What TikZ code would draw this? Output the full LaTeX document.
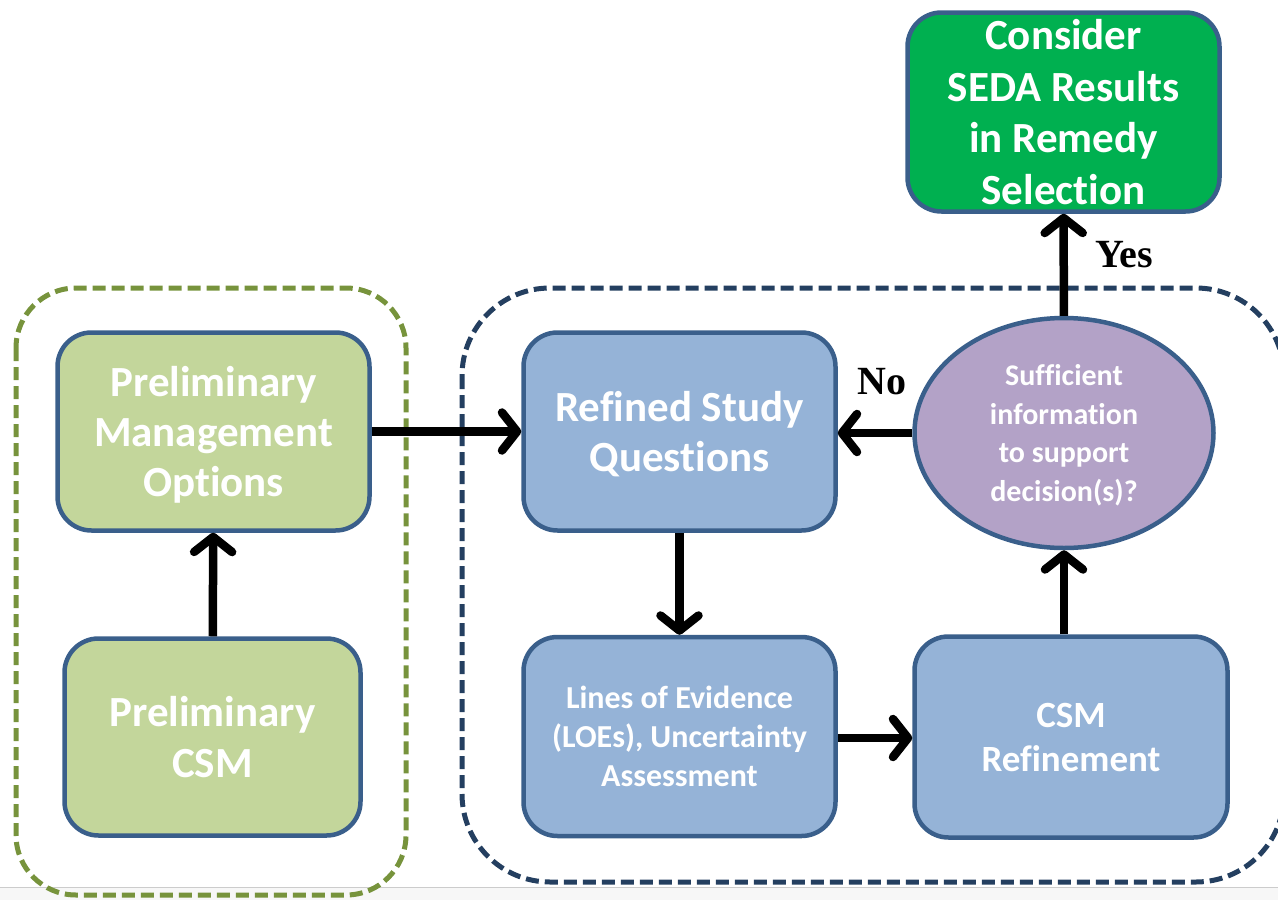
\documentclass[tikz,border=0pt]{standalone}
\usepackage{fontspec}
\setmainfont{Carlito}[Ligatures = NoCommon]
\newfontfamily\timesfont{Liberation Serif}
\usetikzlibrary{arrows.meta,shapes.geometric}

\definecolor{boxline}{HTML}{3A5F8B}
\definecolor{bluefill}{HTML}{95B3D7}
\definecolor{olivefill}{HTML}{C3D69B}
\definecolor{lavfill}{HTML}{B3A2C7}
\definecolor{sedagreen}{HTML}{00B050}
\definecolor{dashgreen}{HTML}{77933C}
\definecolor{dashnavy}{HTML}{243F60}

\begin{document}
\begin{tikzpicture}[x = 1pt, y = -1pt,
    stepbox/.style = {draw = boxline, line width = 4.5pt, rounded corners = 34pt,
        inner sep = 0pt, text depth = 0pt, text = white, align = center, font = \bfseries},
    flow/.style = {line width = 8.5pt, -{Straight Barb[length = 15pt, width = 38pt, round]}},
    groupbox/.style = {line width = 5pt, dash pattern = on 13pt off 6pt}
]

        \clip (0, 0) rectangle (1278, 900);

        % Coordinates for all of the boxes.
        \coordinate (P0) at (213.5, 431.5);
        \coordinate (P1) at (212.5, 737.0);
        \coordinate (R0) at (679.5, 431.5);
        \coordinate (R1) at (679.5, 736.5);
        \coordinate (R2) at (1071.0, 737.0);
        \coordinate (S0) at (1064.0, 433.0);
        \coordinate (S1) at (1063.5, 112.0);

        % Strip along the bottom edge.
        \fill[black!3] (0, 887) rectangle (1278, 900);
        \draw[black!20, line width = 1pt] (0, 887) to (1278, 887);

        % The two dashed groups.
        \draw[groupbox, draw = dashgreen, rounded corners = 60pt]
            (16, 288) rectangle (406, 895);
        \draw[groupbox, draw = dashnavy, rounded corners = 88pt]
            (462, 288) rectangle (1284, 882);

        % The boxes.
        \node[stepbox, fill = olivefill, minimum width = 312pt, minimum height = 198pt,
            font = \bfseries\fontsize{43}{50}\selectfont] (pmo) at (P0)
            {Preliminary\\Management\\Options};
        \node[stepbox, fill = olivefill, minimum width = 296pt, minimum height = 197pt,
            font = \bfseries\fontsize{43}{51}\selectfont] (pcsm) at (P1)
            {Preliminary\\CSM};
        \node[stepbox, fill = bluefill, minimum width = 312pt, minimum height = 198pt,
            font = \bfseries\fontsize{43}{50}\selectfont] (rsq) at (R0)
            {Refined Study\\Questions};
        \node[stepbox, fill = bluefill, minimum width = 312pt, minimum height = 199pt,
            font = \bfseries\fontsize{32}{39}\selectfont] (loe) at (R1)
            {Lines of Evidence\\(LOEs), Uncertainty\\Assessment};
        \node[stepbox, fill = bluefill, minimum width = 313pt, minimum height = 201pt,
            font = \bfseries\fontsize{37}{44}\selectfont] (ref) at (R2)
            {CSM\\Refinement};
        \node[stepbox, ellipse, fill = lavfill, minimum width = 299pt, minimum height = 230pt,
            font = \bfseries\fontsize{30}{38.5}\selectfont] (suff) at (S0)
            {Sufficient\\information\\to support\\decision(s)?};
        \node[stepbox, fill = sedagreen, minimum width = 312pt, minimum height = 199pt,
            font = \bfseries\fontsize{43}{51.5}\selectfont] (seda) at (S1)
            {Consider\\SEDA Results\\in Remedy\\Selection};

        % Arrows between the boxes.
        \draw[flow] (pcsm) to (pmo);
        \draw[flow] (pmo) to (rsq);
        \draw[flow] (rsq) to (loe);
        \draw[flow] (loe.east |- 0, 738) to (ref.west |- 0, 738);
        \draw[flow] (ref.north -| suff.south) to (suff.south);
        \draw[flow] (suff.west) to (suff.west -| rsq.east);
        \draw[flow] (suff) to (seda);

        % Label the decision.
        \node[font = \timesfont\bfseries\fontsize{40}{44}\selectfont] (no) at (882, 382) {No};
        \node[font = \timesfont\bfseries\fontsize{40}{44}\selectfont] (yes) at (1124, 255) {Yes};
    \end{tikzpicture}
\end{document}
